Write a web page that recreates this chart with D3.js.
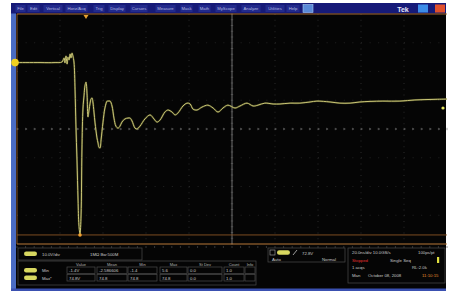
<!DOCTYPE html>
<html><head><meta charset="utf-8">
<script src="https://cdn.jsdelivr.net/npm/d3@7"></script>
<style>html,body{margin:0;padding:0;background:#fff;}svg{display:block;}</style>
</head><body>
<svg id="c" width="449" height="293"></svg>
<script>
// ---- data ----
const timeNs = [-100,-89.3,-82.3,-79.1,-78.1,-77.7,-77.2,-76.7,-76.3,-75.8,-75.3,-74.9,-74.4,-74.0,-73.5,-73.0,-72.6,-72.1,-71.6,-71.2,-70.7,-70.2,-69.8,-69.3,-68.8,-68.4,-67.9,-67.4,-67.0,-66.5,-66.0,-65.6,-65.1,-64.7,-64.2,-63.7,-63.3,-62.8,-62.3,-61.9,-61.4,-60.9,-60.0,-59.1,-58.1,-57.7,-56.7,-55.8,-54.9,-54.0,-53.0,-52.1,-51.2,-49.8,-48.4,-47.4,-46.5,-45.1,-44.2,-42.8,-40.5,-38.1,-36.3,-34.9,-33.5,-31.2,-29.8,-27.9,-26.5,-25.1,-22.8,-20.9,-19.5,-18.1,-16.3,-14.0,-11.2,-8.8,-6.5,-4.2,-1.9,1.4,3.7,7.0,9.8,12.1,15.3,19.1,22.3,27.0,31.6,36.3,39.5,45.6,50.2,54.9,59.5,64.2,70.2,78.1,85.1,93.5,100];
const volts  = [23.1,23.1,23.1,23.3,24.7,23.0,25.4,22.6,25.0,24.0,26.1,24.7,26.4,25.4,23.3,13.6,1.4,-10.8,-24.7,-33.4,-36.5,-29.9,-7.3,7.3,11.8,15.0,16.3,11.8,4.2,6.6,9.0,10.4,10.8,9.4,5.9,2.1,-0.3,-3.1,-4.9,-6.3,-6.6,-3.8,2.4,7.3,9.7,9.7,9.7,8.0,3.8,1.0,0.3,1.0,2.4,3.5,3.8,3.8,2.8,0.3,0,1.0,3.5,4.9,3.5,2.4,3.1,5.9,6.6,5.9,4.9,5.6,8.0,9.0,8.7,6.9,6.6,7.6,8.3,7.3,5.9,7.3,8.3,7.3,8.0,9.0,8.0,8.3,9.0,8.7,8.7,9.0,9.0,9.4,9.7,9.4,9.0,9.0,9.4,9.6,9.7,9.7,10.1,10.3,10.4];
const ch1Offset = 23.1;      // ground marker level (V)
const trigLevel = 7.3;       // trigger level (V)
const trigTime = -67.9;      // trigger position (ns)
const spikeTime = -70.7;     // min marker (ns)
const spikeMin = -36.5;
const menuLabels = ["File","Edit","Vertical","Horiz/Acq","Trig","Display","Cursors","Measure","Mask","Math","MyScope","Analyze","Utilities","Help"];
const measHeaders = ["Value","Mean","Min","Max","St Dev","Count","Info"];
const measNames = ["Min","Max*"];
const measRows = [["-1.4V","-2.586606","-1.4","5.6","0.0","1.0",""],["74.8V","74.8","74.8","74.8","0.0","1.0",""]];
const chReadout = ["10.0V/div","1M\u03A9  Bw:500M"];
const trigReadout = ["72.8V","Auto","Normal"];
const acqReadout = [["20.0ns/div  10.0GS/s","100ps/pt"],["Stopped","Single Seq"],["1 acqs","RL:2.0k"],["Man","October 08, 2008","11:10:15"]];

// ---- layout ----
const svg = d3.select("#c");
const F = "Liberation Sans, Arial, sans-serif";
const X0=17, X1=447, Y0=14, Y1=244;
const x = d3.scaleLinear().domain([-100,100]).range([X0,X1]);
const y = d3.scaleLinear().domain([-40,40]).range([Y1,Y0]);

// screen
svg.append("rect").attr("x",11).attr("y",3).attr("width",435).attr("height",288).attr("fill","#050505");
svg.append("rect").attr("x",11).attr("y",3).attr("width",5).attr("height",288).attr("fill","#4a6cc4");
svg.append("rect").attr("x",11).attr("y",288.5).attr("width",435).attr("height",2.5).attr("fill","#3a50b0");
// menu bar
svg.append("rect").attr("x",11).attr("y",3).attr("width",435).attr("height",10.5).attr("fill","#161a78");
const menuX = [17,29,45,67,95,110,132,157,182,200,217,243,267,288];
const menuW = [7,9,16,19,8,14,14,17,9,9,18,16,16,10];
const mg = svg.append("g");
menuLabels.forEach((m,i)=>{
  mg.append("rect").attr("x",menuX[i]-1.5).attr("y",5).attr("width",menuW[i]+3).attr("height",7).attr("fill","#222a8c");
  mg.append("text").attr("x",menuX[i]+menuW[i]/2).attr("y",10.4).attr("text-anchor","middle")
    .attr("font-family",F).attr("font-size",4.2).attr("fill","#b8bce0").text(m);
});
svg.append("rect").attr("x",303).attr("y",4.5).attr("width",10).attr("height",8).attr("fill","#5a8ad8").attr("stroke","#a8c8f0").attr("stroke-width",0.6);
svg.append("text").attr("x",403).attr("y",11.5).attr("text-anchor","middle").attr("font-family",F).attr("font-weight","bold").attr("font-size",7).attr("fill","#e8e8f8").text("Tek");
svg.append("rect").attr("x",418).attr("y",4.5).attr("width",10).attr("height",8).attr("fill","#3c8ce8");
svg.append("rect").attr("x",435).attr("y",4.5).attr("width",10).attr("height",8).attr("fill","#e0502c");

// graticule
const g = svg.append("g");
d3.range(-100,101,20).forEach(t=>{
  if (t===-100||t===100) return;
  g.append("line").attr("x1",x(t)).attr("x2",x(t)).attr("y1",Y0).attr("y2",Y1)
   .attr("stroke", t===0?"#8a8a8a":"#3a3a3a").attr("stroke-width",t===0?0.8:0.7)
   .attr("stroke-dasharray", t===0?null:"1,4.75");
});
d3.range(-40,41,10).forEach(v=>{
  if (v===-40||v===40) return;
  g.append("line").attr("x1",X0).attr("x2",X1).attr("y1",y(v)).attr("y2",y(v))
   .attr("stroke", v===0?"#7a7a7a":"#303030").attr("stroke-width",v===0?1:0.7)
   .attr("stroke-dasharray", v===0?"1.5,7.1":"1,7.6");
});
d3.range(-100,100.1,4).forEach(t=>{
  g.append("line").attr("x1",x(t)).attr("x2",x(t)).attr("y1",y(0)-1.2).attr("y2",y(0)+1.2).attr("stroke","#666").attr("stroke-width",0.6);
});
d3.range(-40,40.1,2).forEach(v=>{
  g.append("line").attr("x1",x(0)-1.2).attr("x2",x(0)+1.2).attr("y1",y(v)).attr("y2",y(v)).attr("stroke","#666").attr("stroke-width",0.6);
});
// orange borders
svg.append("line").attr("x1",X0).attr("x2",X1).attr("y1",Y0).attr("y2",Y0).attr("stroke","#a86a30").attr("stroke-width",1);
svg.append("line").attr("x1",X0).attr("x2",X1).attr("y1",Y1).attr("y2",Y1).attr("stroke","#b87838").attr("stroke-width",1);
svg.append("line").attr("x1",X0).attr("x2",X0).attr("y1",Y0).attr("y2",Y1).attr("stroke","#a86a30").attr("stroke-width",0.8);
svg.append("line").attr("x1",X0).attr("x2",X1).attr("y1",y(spikeMin)+1).attr("y2",y(spikeMin)+1).attr("stroke","#8a5424").attr("stroke-width",0.9);
d3.range(-100,100.1,4).forEach(t=>{
  svg.append("line").attr("x1",x(t)).attr("x2",x(t)).attr("y1",Y1+2).attr("y2",Y1+4).attr("stroke","#555").attr("stroke-width",0.6);
});

// trace
const pts = timeNs.map((t,i)=>[t,volts[i]]);
const line = d3.line().x(d=>x(d[0])).y(d=>y(d[1])).curve(d3.curveCatmullRom.alpha(0.5));
svg.append("path").datum(pts).attr("d",line).attr("fill","none").attr("stroke","#7a7a38").attr("stroke-width",2).attr("opacity",0.45);
svg.append("path").datum(pts).attr("d",line).attr("fill","none").attr("stroke","#cac676").attr("stroke-width",1);

// markers
svg.append("circle").attr("cx",15).attr("cy",y(ch1Offset)).attr("r",3.8).attr("fill","#f0d020");
svg.append("path").attr("d",`M${x(trigTime)-2.5},${Y0+1}L${x(trigTime)+2.5},${Y0+1}L${x(trigTime)},${Y0+5}Z`).attr("fill","#e8a030");
svg.append("circle").attr("cx",x(spikeTime)).attr("cy",y(spikeMin)+1).attr("r",1.8).attr("fill","#f0a030");
svg.append("circle").attr("cx",443).attr("cy",y(trigLevel)).attr("r",1.6).attr("fill","#e8e860");

// readouts
const txt = (tx,ty,s,col,sz,anchor)=>svg.append("text").attr("x",tx).attr("y",ty).attr("font-family",F)
  .attr("font-size",sz||4.3).attr("fill",col||"#c8c8c8").attr("text-anchor",anchor||"start").text(s);
const pill = (px,py)=>svg.append("rect").attr("x",px).attr("y",py).attr("width",13).attr("height",4.5).attr("rx",2.2).attr("fill","#d8d860");
const box = (bx,by,bw,bh)=>svg.append("rect").attr("x",bx).attr("y",by).attr("width",bw).attr("height",bh).attr("fill","none").attr("stroke","#4a4a4a").attr("stroke-width",0.7);

box(18,248,124,12);
pill(24,251.5);
txt(42,255.5,chReadout[0]);
txt(90,255.5,chReadout[1]);

box(18,261,238,24);
const colX = [67,97,128,160,188,224,245];
const colW = [28,30,29,27,34,20,10];
measHeaders.forEach((h,i)=>txt(colX[i]+colW[i]/2,265.5,h,"#b0b0b0",4,"middle"));
measNames.forEach((n,r)=>{
  const ry = 267+r*7.5;
  pill(24,ry+1);
  txt(42,ry+5,n);
  measRows[r].forEach((v,i)=>{
    box(colX[i],ry,colW[i],6.5);
    txt(colX[i]+2,ry+5,v);
  });
});

box(268,248,77,14);
svg.append("rect").attr("x",270).attr("y",250).attr("width",5).attr("height",5).attr("fill","none").attr("stroke","#aaa").attr("stroke-width",0.6);
pill(277,250.3);
svg.append("line").attr("x1",293).attr("x2",297).attr("y1",255).attr("y2",250).attr("stroke","#ddd").attr("stroke-width",0.7);
txt(302,254.5,trigReadout[0]);
txt(272,260.5,trigReadout[1]);
txt(322,260.5,trigReadout[2]);

box(348,248,97,35);
txt(352,254,acqReadout[0][0]);
txt(418,254,acqReadout[0][1]);
txt(352,261.5,acqReadout[1][0],"#e03030");
txt(390,261.5,acqReadout[1][1]);
svg.append("rect").attr("x",437).attr("y",257).attr("width",2.2).attr("height",6).attr("fill","#e0e040");
txt(352,269,acqReadout[2][0]);
txt(412,269,acqReadout[2][1]);
txt(352,277,acqReadout[3][0]);
txt(368,277,acqReadout[3][1]);
txt(422,277,acqReadout[3][2],"#e09030");
</script>
</body></html>
